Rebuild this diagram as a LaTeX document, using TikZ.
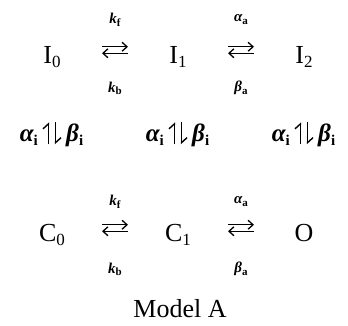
\documentclass[tikz,border=0pt]{standalone}
\usepackage{fontspec}
\setmainfont{Liberation Serif}
\usetikzlibrary{arrows.meta,positioning}

\newcommand{\lowsub}[2][17]{\raisebox{-0.18em}{\fontsize{#1}{#1}\selectfont #2}}

\begin{document}
\begin{tikzpicture}[x=1pt,y=-1pt,
state/.style={font=\fontsize{26}{26}\selectfont,inner sep=0pt,text height=17.5pt,text depth=4pt,anchor=base},
rate/.style={font=\fontsize{15}{15}\selectfont\bfseries\itshape,inner sep=0pt},
vrate/.style={font=\fontsize{25}{25}\selectfont\bfseries\itshape,inner sep=0pt},
rxn/.style={-{Straight Barb[length=5pt,width=9pt]},line width=1.3pt,shorten <=50pt,shorten >=50pt},
up harp/.style={-{Straight Barb[left,length=5pt,width=11pt]},line width=1.4pt,shorten <=90pt,shorten >=66pt},
down harp/.style={-{Straight Barb[left,length=5pt,width=11pt]},line width=1.4pt,shorten <=66pt,shorten >=90pt}]
\useasboundingbox (0,0) rectangle (348,325);
% inactivated states
\node[state] (i0) at (52,63) {I\lowsub{0}};
\node[state] (i1) at (178,63) {I\lowsub{1}};
\node[state] (i2) at (304,63) {I\lowsub{2}};
% closed and open states
\node[state] (c0) at (52,241) {C\lowsub{0}};
\node[state] (c1) at (178,241) {C\lowsub{1}};
\node[state] (o) at (304,241) {O};
% horizontal transitions
\draw[rxn] ([yshift=9.5pt]i0.center) -- node[rate,yshift=27pt] {k\lowsub[11]{\upshape f}} ([yshift=9.5pt]i1.center);
\draw[rxn] ([yshift=3pt]i1.center) -- node[rate,yshift=-35pt] {k\lowsub[11]{\upshape b}} ([yshift=3pt]i0.center);
\draw[rxn] ([yshift=9.5pt]i1.center) -- node[rate,yshift=27pt] {α\lowsub[11]{\upshape a}} ([yshift=9.5pt]i2.center);
\draw[rxn] ([yshift=3pt]i2.center) -- node[rate,yshift=-35pt] {β\lowsub[11]{\upshape a}} ([yshift=3pt]i1.center);
\draw[rxn] ([yshift=9.5pt]c0.center) -- node[rate,yshift=23pt] {k\lowsub[11]{\upshape f}} ([yshift=9.5pt]c1.center);
\draw[rxn] ([yshift=3pt]c1.center) -- node[rate,yshift=-38pt] {k\lowsub[11]{\upshape b}} ([yshift=3pt]c0.center);
\draw[rxn] ([yshift=9.5pt]c1.center) -- node[rate,yshift=23pt] {α\lowsub[11]{\upshape a}} ([yshift=9.5pt]o.center);
\draw[rxn] ([yshift=3pt]o.center) -- node[rate,yshift=-38pt] {β\lowsub[11]{\upshape a}} ([yshift=3pt]c1.center);
% vertical transitions
\draw[up harp] ([xshift=-3.5pt]c0.center) -- ([xshift=-3.5pt]i0.center);
\draw[down harp] ([xshift=3.5pt]i0.center) -- ([xshift=3.5pt]c0.center);
\draw[up harp] ([xshift=-3.5pt]c1.center) -- ([xshift=-3.5pt]i1.center);
\draw[down harp] ([xshift=3.5pt]i1.center) -- ([xshift=3.5pt]c1.center);
\draw[up harp] ([xshift=-3.5pt]o.center) -- ([xshift=-3.5pt]i2.center);
\draw[down harp] ([xshift=3.5pt]i2.center) -- ([xshift=3.5pt]o.center);
\node[vrate,anchor=base east] (a0) at (38,141) {α\lowsub[15]{\upshape i}};
\node[vrate,anchor=base west] (b0) at (66,141) {β\lowsub[15]{\upshape i}};
\node[vrate,anchor=base east] (a1) at (164,141) {α\lowsub[15]{\upshape i}};
\node[vrate,anchor=base west] (b1) at (192,141) {β\lowsub[15]{\upshape i}};
\node[vrate,anchor=base east] (a2) at (290,141) {α\lowsub[15]{\upshape i}};
\node[vrate,anchor=base west] (b2) at (318,141) {β\lowsub[15]{\upshape i}};
% caption
\node[state] (cap) at (180,317) {Model A};
\end{tikzpicture}
\end{document}
